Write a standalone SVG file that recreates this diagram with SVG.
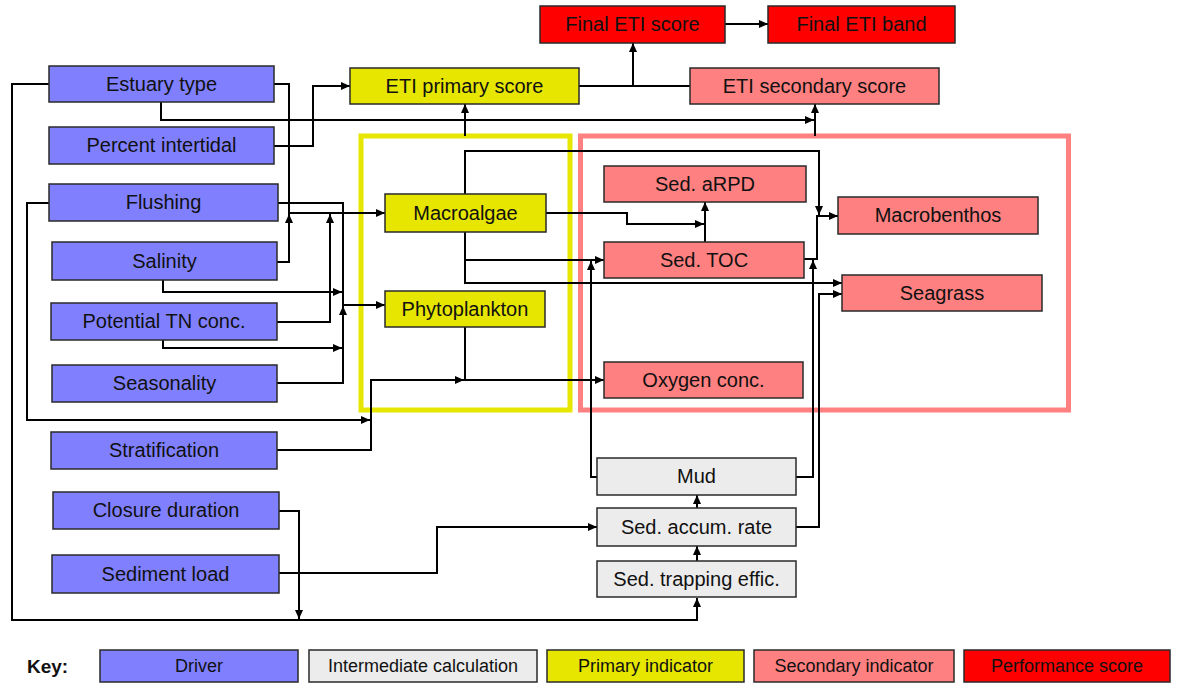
<svg xmlns="http://www.w3.org/2000/svg" width="1181" height="686" viewBox="0 0 1181 686">
<style>
.n rect{stroke:#2a2a2a;stroke-width:1.5}
.drv rect{fill:#8080ff}
.pri rect{fill:#e6e600}
.sec rect{fill:#ff8080}
.perf rect{fill:#ff0000}
.int rect{fill:#ececec}
.n text{font-family:"Liberation Sans",Arial,sans-serif;font-size:20px;fill:#111;text-anchor:middle}
.key text{font-size:18px}
.c path{fill:none;stroke:#000;stroke-width:2}
.a{marker-end:url(#ah)}
</style>
<defs>
<marker id="ah" markerUnits="userSpaceOnUse" markerWidth="10" markerHeight="8" refX="9" refY="4" orient="auto">
<path d="M0,0 L9,4 L0,8 Z" fill="#000"/>
</marker>
</defs>
<rect width="1181" height="686" fill="#fff"/>
<g id="frames">
<rect x="361" y="136" width="209" height="274" fill="none" stroke="#e6e600" stroke-width="5"/>
<rect x="580.5" y="136" width="488" height="274" fill="none" stroke="#ff8080" stroke-width="5"/>
</g>
<g id="connectors" class="c">
<path class="a" d="M49,84 H12 V620 H697 V598"/>
<path class="a" d="M274,84 H289 V213 H385"/>
<path class="a" d="M161,102 V120 H814"/>
<path class="a" d="M274,146 H313 V86 H350"/>
<path class="a" d="M49,203 H27 V420 H370"/>
<path class="a" d="M278,203 H343 V305 H385"/>
<path class="a" d="M277,262 H289 V214"/>
<path class="a" d="M163,280 V292 H342"/>
<path class="a" d="M277,322 H330 V214"/>
<path class="a" d="M163,340 V348 H342"/>
<path class="a" d="M277,383 H343 V306"/>
<path class="a" d="M277,450 H371 V380 H464"/>
<path class="a" d="M279,511 H299 V619"/>
<path class="a" d="M279,573 H437 V527 H597"/>
<path class="a" d="M465,327 V380 H604"/>
<path class="a" d="M465,194 V151 H819 V215"/>
<path class="a" d="M546,213 H627 V224 H704"/>
<path class="a" d="M705,242 V202"/>
<path class="a" d="M465,232 V283 H842"/>
<path class="a" d="M465,260 H604"/>
<path class="a" d="M597,477 H591 V261"/>
<path class="a" d="M796,477 H813 V260"/>
<path class="a" d="M804,259 H817 V216 H838"/>
<path class="a" d="M796,527 H819 V294 H842"/>
<path class="a" d="M697,508 V495"/>
<path class="a" d="M697,561 V546"/>
<path class="a" d="M465,136 V104"/>
<path class="a" d="M815,136 V104"/>
<path d="M579,86 H690"/>
<path class="a" d="M633,86 V43"/>
<path class="a" d="M725,24 H768"/>
</g>
<g id="n-estuary" class="n drv"><rect x="49" y="66" width="225" height="36"/><text x="161.5" y="91">Estuary type</text></g>
<g id="n-intertidal" class="n drv"><rect x="49" y="127" width="225" height="37"/><text x="161.5" y="152">Percent intertidal</text></g>
<g id="n-flushing" class="n drv"><rect x="49" y="184" width="229" height="37"/><text x="163.5" y="209">Flushing</text></g>
<g id="n-salinity" class="n drv"><rect x="52" y="242" width="225" height="38"/><text x="164.5" y="268">Salinity</text></g>
<g id="n-tn" class="n drv"><rect x="51" y="303" width="226" height="37"/><text x="164" y="328">Potential TN conc.</text></g>
<g id="n-seasonality" class="n drv"><rect x="52" y="365" width="225" height="37"/><text x="164.5" y="390">Seasonality</text></g>
<g id="n-strat" class="n drv"><rect x="51" y="432" width="226" height="37"/><text x="164" y="457">Stratification</text></g>
<g id="n-closure" class="n drv"><rect x="53" y="492" width="226" height="37"/><text x="166" y="517">Closure duration</text></g>
<g id="n-sedload" class="n drv"><rect x="52" y="555" width="227" height="38"/><text x="165.5" y="581">Sediment load</text></g>
<g id="n-eti-primary" class="n pri"><rect x="350" y="68" width="229" height="36"/><text x="464.5" y="93">ETI primary score</text></g>
<g id="n-macroalgae" class="n pri"><rect x="385" y="194" width="161" height="38"/><text x="465.5" y="220">Macroalgae</text></g>
<g id="n-phyto" class="n pri"><rect x="385" y="291" width="160" height="36"/><text x="465" y="316">Phytoplankton</text></g>
<g id="n-final-score" class="n perf"><rect x="540" y="6" width="185" height="37"/><text x="632.5" y="31">Final ETI score</text></g>
<g id="n-final-band" class="n perf"><rect x="768" y="6" width="187" height="37"/><text x="861.5" y="31">Final ETI band</text></g>
<g id="n-eti-secondary" class="n sec"><rect x="690" y="68" width="249" height="36"/><text x="814.5" y="93">ETI secondary score</text></g>
<g id="n-arpd" class="n sec"><rect x="604" y="166" width="202" height="36"/><text x="705" y="191">Sed. aRPD</text></g>
<g id="n-macrobenthos" class="n sec"><rect x="838" y="197" width="200" height="37"/><text x="938" y="222">Macrobenthos</text></g>
<g id="n-toc" class="n sec"><rect x="604" y="242" width="200" height="36"/><text x="704" y="267">Sed. TOC</text></g>
<g id="n-seagrass" class="n sec"><rect x="842" y="275" width="200" height="36"/><text x="942" y="300">Seagrass</text></g>
<g id="n-oxygen" class="n sec"><rect x="604" y="362" width="199" height="36"/><text x="703.5" y="387">Oxygen conc.</text></g>
<g id="n-mud" class="n int"><rect x="597" y="458" width="199" height="37"/><text x="696.5" y="483">Mud</text></g>
<g id="n-accum" class="n int"><rect x="597" y="508" width="199" height="38"/><text x="696.5" y="534">Sed. accum. rate</text></g>
<g id="n-trap" class="n int"><rect x="597" y="561" width="199" height="36"/><text x="696.5" y="586">Sed. trapping effic.</text></g>
<g id="key">
<text x="27" y="673" font-family="'Liberation Sans',Arial,sans-serif" font-size="19" font-weight="bold" fill="#111">Key:</text>
<g id="key-driver" class="n drv key"><rect x="100" y="650" width="198" height="32"/><text x="199" y="672">Driver</text></g>
<g id="key-int" class="n int key"><rect x="309" y="650" width="228" height="32"/><text x="423" y="672">Intermediate calculation</text></g>
<g id="key-pri" class="n pri key"><rect x="547" y="650" width="197" height="32"/><text x="645.5" y="672">Primary indicator</text></g>
<g id="key-sec" class="n sec key"><rect x="754" y="650" width="200" height="32"/><text x="854" y="672">Secondary indicator</text></g>
<g id="key-perf" class="n perf key"><rect x="964" y="650" width="206" height="32"/><text x="1067" y="672">Performance score</text></g>
</g>
</svg>
